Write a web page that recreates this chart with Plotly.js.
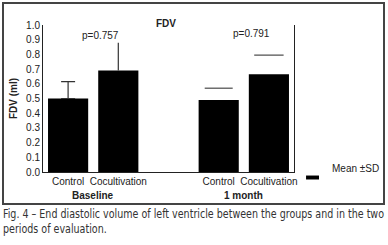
<!DOCTYPE html>
<html><head><meta charset="utf-8">
<script src="https://cdn.plot.ly/plotly-3.0.1.min.js"></script>
<style>
body{margin:0;background:#fff;width:388px;height:245px;overflow:hidden;position:relative;}
#plot{position:absolute;left:0;top:0;width:388px;height:206px;}
#frame{position:absolute;left:2px;top:2px;width:383px;height:203px;border:2px solid #444;box-sizing:border-box;pointer-events:none;}
#cap{position:absolute;left:3px;top:207px;font-family:"Liberation Sans Narrow","DejaVu Sans Condensed","Liberation Sans",sans-serif;font-size:11.5px;line-height:15px;color:#333;white-space:nowrap;}
#cap span{display:inline-block;transform-origin:0 0;}
</style></head>
<body>
<div id="plot"></div>
<div id="frame"></div>
<div id="cap"><span id="l1">Fig. 4 – End diastolic volume of left ventricle between the groups and in the two</span><br><span id="l2">periods of evaluation.</span></div>
<script>
const periods = ["Baseline", "1 month"];
const groups = ["Control", "Cocultivation"];
const means = [[0.50, 0.69], [0.49, 0.665]];
const sds = [[0.115, 0.19], [0.08, 0.13]];
const pValues = ["p=0.757", "p=0.791"];
const legendName = "Mean ±SD";

const xs = [], ys = [], labels = [];
periods.forEach((p, pi) => groups.forEach((g, gi) => {
  xs.push(pi * 3 + gi); ys.push(means[pi][gi]); labels.push(g);
}));

const font = {family: "Liberation Sans, Arial, sans-serif", size: 10, color: "#222"};
const traces = [{
  type: "bar", x: xs, y: ys, width: 0.8, name: legendName,
  marker: {color: "#000", line: {width: 0}}, showlegend: false
}];
// baseline: error bars with stems
const capW = [7, 0];
groups.forEach((g, gi) => {
  traces.push({
    type: "scatter", mode: "markers", x: [gi], y: [means[0][gi]],
    marker: {size: 1, color: "rgba(0,0,0,0)"}, showlegend: false,
    error_y: {type: "data", array: [sds[0][gi]], arrayminus: [0], symmetric: false,
      color: "#333", thickness: 1.2, width: capW[gi]}
  });
});
// 1 month: cap only
traces.push({
  type: "scatter", mode: "markers",
  x: groups.map((g, gi) => 3 + gi),
  y: groups.map((g, gi) => means[1][gi] + sds[1][gi]),
  marker: {symbol: "line-ew", size: [20, 21], line: {width: 1.3, color: "#111"}},
  showlegend: false
});

const pX = [0.65, 3.66], pY = [0.93, 0.945];
const annotations = [
  {text: "<b>FDV</b>", xref: "paper", yref: "paper", x: 0.49, y: 1, yshift: 9, showarrow: false, font: font},
  {text: legendName, xref: "paper", yref: "paper", x: 1.143, y: -0.027, xanchor: "left", showarrow: false, font: font}
];
pValues.forEach((t, i) => annotations.push({text: t, x: pX[i], y: pY[i], showarrow: false, font: font}));
periods.forEach((p, pi) => annotations.push({
  text: "<b>" + p + "</b>", x: pi * 3 + 0.5, xref: "x", yref: "paper", y: 0, yshift: -23,
  yanchor: "middle", showarrow: false, font: font
}));

Plotly.newPlot("plot", traces, {
  width: 388, height: 206,
  margin: {l: 43, r: 94, t: 25, b: 34},
  paper_bgcolor: "rgba(0,0,0,0)", plot_bgcolor: "#fff",
  font: font, showlegend: false,
  xaxis: {range: [-0.5, 4.5], tickvals: xs, ticktext: labels, showline: true, linecolor: "#222",
    linewidth: 1, mirror: false, ticks: "", showgrid: false, zeroline: false, tickfont: font, fixedrange: true},
  yaxis: {range: [0, 1], dtick: 0.1, tickformat: ".1f", showline: true, mirror: true, linecolor: "#222",
    linewidth: 1, ticks: "", showgrid: false, zeroline: false, tickfont: font,
    title: {text: "<b>FDV (ml)</b>", font: font, standoff: 6}},
  annotations: annotations,
  shapes: [{type: "rect", xref: "paper", yref: "paper", x0: 1.048, x1: 1.0996, y0: -0.051, y1: -0.024,
    fillcolor: "#000", line: {width: 0}}]
}, {staticPlot: true});

const w1 = document.getElementById("l1").getBoundingClientRect().width;
const s = 381 / w1;
document.getElementById("l1").style.transform = "scaleX(" + s + ")";
document.getElementById("l2").style.transform = "scaleX(" + s + ")";
</script>
</body></html>
